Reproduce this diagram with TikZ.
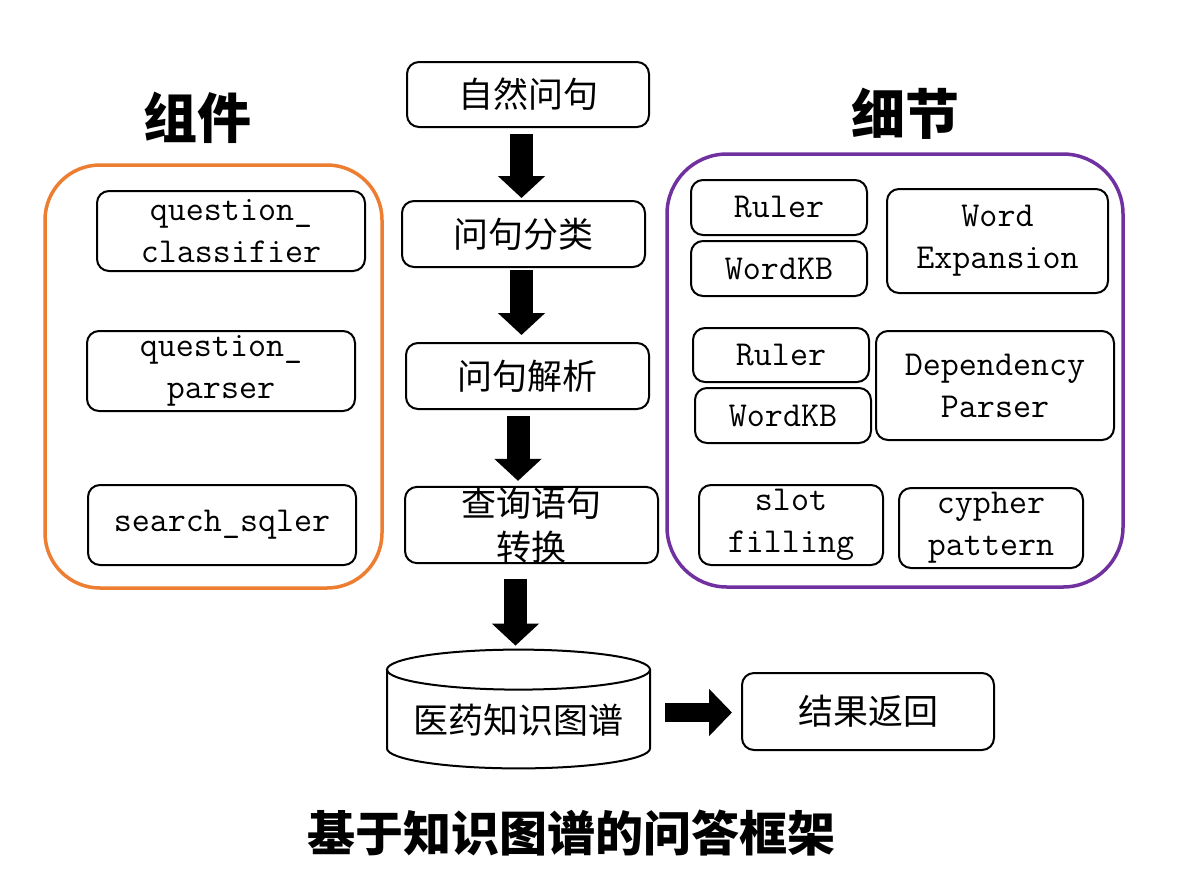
\documentclass[tikz,border=0pt]{standalone}
\usepackage{fontspec}
\newfontfamily\cjk{Noto Sans CJK SC}
\usetikzlibrary{arrows.meta}
\definecolor{myorange}{HTML}{ED7D31}
\definecolor{mypurple}{HTML}{7030A0}
\begin{document}
\begin{tikzpicture}[x=0.5pt,y=-0.5pt,
  sz/.style 2 args={minimum width=#1*0.5pt, minimum height=#2*0.5pt},
  box/.style={draw, line width=1pt, rounded corners=6pt, inner sep=0pt, align=center},
  zh/.style={font=\cjk\fontsize{17.5}{22}\selectfont},
  en/.style={font=\ttfamily\fontsize{17.5}{21}\selectfont},
  head/.style={font=\cjk\bfseries\fontsize{27}{30}\selectfont},
  titlestyle/.style={font=\cjk\bfseries\fontsize{24}{28}\selectfont},
  grp/.style={draw, line width=1.75pt, inner sep=0pt},
  bigarrow/.style={line width=11.5pt, -{Triangle[width=23pt,length=11pt]}},
  sidearrow/.style={line width=9.5pt, -{Triangle[width=23pt,length=11.5pt]}}]
\useasboundingbox (0,0) rectangle (1188,879);

% group frames
\node[grp, draw=myorange, rounded corners=27.5pt, sz={337}{423}] (comp) at (213.5,376.5) {};
\node[grp, draw=mypurple, rounded corners=30pt, sz={456}{433}] (detail) at (895,370.5) {};
\node[head] (compt) at (197,118) {组件};
\node[head] (detailt) at (905,114) {细节};

% components
\node[box, en, sz={268}{80}] (qc) at (231,231) {question\_\\classifier};
\node[box, en, sz={268}{80}] (qp) at (221,371) {question\_\\parser};
\node[box, en, sz={268}{80}] (ss) at (222,525) {search\_sqler};

% details
\node[box, en, sz={176}{55}] (r1) at (779,207.5) {Ruler};
\node[box, en, sz={176}{55}] (w1) at (779,268.5) {WordKB};
\node[box, en, sz={221}{104}] (we) at (997.5,241) {Word\\Expansion};
\node[box, en, sz={176}{54}] (r2) at (781,355) {Ruler};
\node[box, en, sz={176}{55}] (w2) at (783,415.5) {WordKB};
\node[box, en, sz={238}{109}] (dp) at (995,385.5) {Dependency\\Parser};
\node[box, en, sz={184}{80}] (sf) at (791,525) {slot\\filling};
\node[box, en, sz={184}{80}] (cp) at (991,528) {cypher\\pattern};

% main flow
\node[box, zh, sz={242}{65}] (nat) at (528,94.5) {自然问句};
\node[box, zh, sz={243}{66}] (cls) at (523.5,234) {问句分类};
\node[box, zh, sz={243}{66}] (par) at (527.5,376) {问句解析};
\node[box, zh, sz={253}{76}] (cvt) at (531.5,525) {查询语句\\转换};
\node[inner sep=0pt, sz={263}{118}] (kg) at (518.5,709) {};
\node[zh] (kgt) at (518.5,720) {医药知识图谱};
\node[box, zh, sz={252}{77}] (res) at (868,711.5) {结果返回};

% cylinder
\coordinate (kgtop) at ([yshift=-10pt]kg.north);
\coordinate (kgbot) at ([yshift=10pt]kg.south);
\draw[line width=1pt] (kgtop) ellipse [x radius=65.75pt, y radius=10pt];
\draw[line width=1pt] ([xshift=-65.75pt]kgtop) -- ([xshift=-65.75pt]kgbot)
  arc[start angle=180, end angle=360, x radius=65.75pt, y radius=10pt]
  -- ([xshift=65.75pt]kgtop);

% arrows
\coordinate (a1) at ([xshift=-3.25pt]nat.south);
\draw[bigarrow, shorten <=3pt, shorten >=1pt] (a1) -- (a1 |- cls.north);
\coordinate (a2) at ([xshift=-1pt]cls.south);
\draw[bigarrow, shorten <=1pt, shorten >=3.5pt] (a2) -- (a2 |- par.north);
\coordinate (a3) at ([xshift=-4.75pt]par.south);
\draw[bigarrow, shorten <=3pt, shorten >=2.5pt] (a3) -- (a3 |- cvt.north);
\coordinate (a4) at ([xshift=-8pt]cvt.south);
\draw[bigarrow, shorten <=7.5pt, shorten >=2pt] (a4) -- (a4 |- kg.north);
\coordinate (a5) at ([yshift=-1.75pt]kg.east);
\draw[sidearrow, shorten <=7.5pt, shorten >=4.5pt] (a5) -- (a5 -| res.west);

% title
\node[titlestyle] (title) at (571,833) {基于知识图谱的问答框架};
\end{tikzpicture}
\end{document}
